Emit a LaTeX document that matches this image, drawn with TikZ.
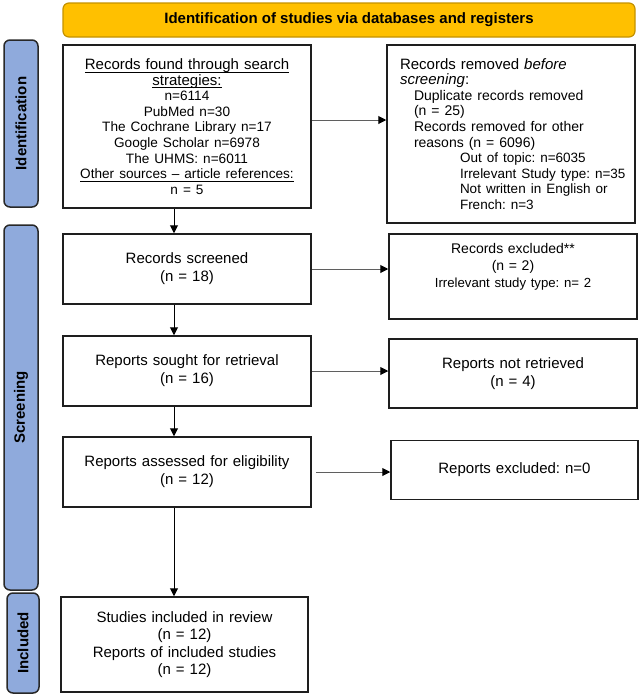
\documentclass[tikz,border=0pt]{standalone}
\usepackage{fontspec}
\setmainfont{Liberation Sans}
\usetikzlibrary{arrows.meta}
\definecolor{hdrfill}{RGB}{255,192,0}
\definecolor{hdrdraw}{RGB}{196,146,0}
\definecolor{barfill}{RGB}{143,170,220}
\definecolor{bardraw}{RGB}{40,40,40}
\definecolor{boxdraw}{RGB}{30,30,30}
\definecolor{arrgray}{RGB}{95,95,95}
\newcommand{\fsz}[2]{\fontsize{#1}{#2}\selectfont}
\newcommand{\myul}[1]{\leavevmode\setbox0\hbox{#1}\rlap{\rule[-3pt]{\wd0}{0.8pt}}\box0}
\frenchspacing
\begin{document}
\begin{tikzpicture}[x=1pt,y=-1pt,
  hdr/.style={draw=hdrdraw, fill=hdrfill, line width=1.2pt, rounded corners=6pt, inner sep=0pt, font=\bfseries\fsz{15}{18}},
  phase/.style={draw=bardraw, fill=barfill, line width=1.5pt, rounded corners=6pt, rotate=90, inner sep=0pt, font=\bfseries\fsz{15}{18}},
  stagebox/.style={draw=boxdraw, line width=1.5pt, fill=white, inner sep=0pt},
  arr/.style={-{Triangle[length=8pt,width=8pt,color=black]}, line width=1pt, draw=black},
  harr/.style={arr, draw=arrgray}
]
\useasboundingbox (0,0) rectangle (641,697);

\node[hdr, minimum width=572pt, minimum height=34pt] (hdr) at (349,20) {Identification of studies via databases and registers};

\node[phase, minimum width=167pt, minimum height=34pt] (idbar) at (21,123.5) {Identification};
\node[phase, minimum width=365pt, minimum height=34pt] (scrbar) at (21,407.5) {Screening};
\node[phase, minimum width=100pt, minimum height=32pt] (incbar) at (23,643) {Included};

\node[stagebox, minimum width=248pt, minimum height=163pt, text width=236pt, align=center, font=\fsz{15}{15.6}] (found) at (187,126.5)
 {\myul{Records found through search}\\
  \myul{strategies:}\\
  {\fsz{13.6}{15.6}n=6114}\\
  {\fsz{13.6}{15.6}PubMed n=30}\\
  {\fsz{13.6}{15.6}The Cochrane Library n=17}\\
  {\fsz{13.6}{15.6}Google Scholar n=6978}\\
  {\fsz{13.6}{15.6}The UHMS: n=6011}\\
  {\fsz{13.6}{15.6}\myul{Other sources – article references:}}\\
  {\fsz{13.6}{15.6}n = 5}};

\node[stagebox, minimum width=248pt, minimum height=178pt, text width=222pt, align=left, font=\fsz{15}{15.6}] (removed) at (511,134)
 {Records removed \textit{before}\\
  \textit{screening}:\\
  {\fsz{14}{15.6}\hspace*{14pt}Duplicate records removed}\\
  {\fsz{14}{15.6}\hspace*{14pt}(n = 25)}\\
  {\fsz{14}{15.6}\hspace*{14pt}Records removed for other}\\
  {\fsz{14}{15.6}\hspace*{14pt}reasons (n = 6096)}\\
  {\fsz{13.5}{15.6}\hspace*{60pt}\mbox{Out of topic: n=6035}}\\
  {\fsz{13.5}{15.6}\hspace*{60pt}\mbox{Irrelevant Study type: n=35}}\\
  {\fsz{13.5}{15.6}\hspace*{60pt}\mbox{Not written in English or}}\\
  {\fsz{13.5}{15.6}\hspace*{60pt}\mbox{French: n=3}}};

\node[stagebox, minimum width=248pt, minimum height=70pt, text width=236pt, align=center, font=\fsz{15}{18}] (screened) at (187,269)
 {Records screened\\(n = 18)};

\node[stagebox, minimum width=248pt, minimum height=85pt, text width=236pt, align=center, font=\fsz{14}{17}] (excl) at (513,276.5)
 {Records excluded**\\(n = 2)\\{\fsz{13.2}{17}Irrelevant study type: n= 2}\\\strut};

\node[stagebox, minimum width=248pt, minimum height=70pt, text width=236pt, align=center, font=\fsz{15}{18}] (sought) at (187,371)
 {Reports sought for retrieval\\(n = 16)};

\node[stagebox, minimum width=248pt, minimum height=69pt, text width=236pt, align=center, font=\fsz{15}{18}] (notret) at (513,373.5)
 {Reports not retrieved\\(n = 4)};

\node[stagebox, minimum width=248pt, minimum height=70pt, text width=236pt, align=center, font=\fsz{15}{18}] (assessed) at (187,472)
 {Reports assessed for eligibility\\(n = 12)};

\node[stagebox, minimum width=247pt, minimum height=59pt, text width=236pt, align=center, font=\fsz{15}{18}] (repexcl) at (514.5,470)
 {Reports excluded: n=0};

\node[stagebox, minimum width=247pt, minimum height=95pt, text width=236pt, align=center, font=\fsz{15}{17.3}] (included) at (184.5,644.5)
 {Studies included in review\\(n = 12)\\Reports of included studies\\(n = 12)};

\coordinate (ax) at (174,0);
\draw[arr] (found.south -| ax) -- (screened.north -| ax);
\draw[arr] (screened.south -| ax) -- (sought.north -| ax);
\draw[arr] (sought.south -| ax) -- (assessed.north -| ax);
\draw[arr] (assessed.south -| ax) -- (included.north -| ax);

\draw[harr] ([yshift=6.5pt]found.east) -- ([yshift=6.5pt]found.east -| removed.west);
\draw[harr] (screened.east) -- (screened.east -| excl.west);
\draw[harr] (sought.east) -- (sought.east -| notret.west);
\draw[harr] ([xshift=4pt]assessed.east) -- (assessed.east -| repexcl.west);
\end{tikzpicture}
\end{document}
